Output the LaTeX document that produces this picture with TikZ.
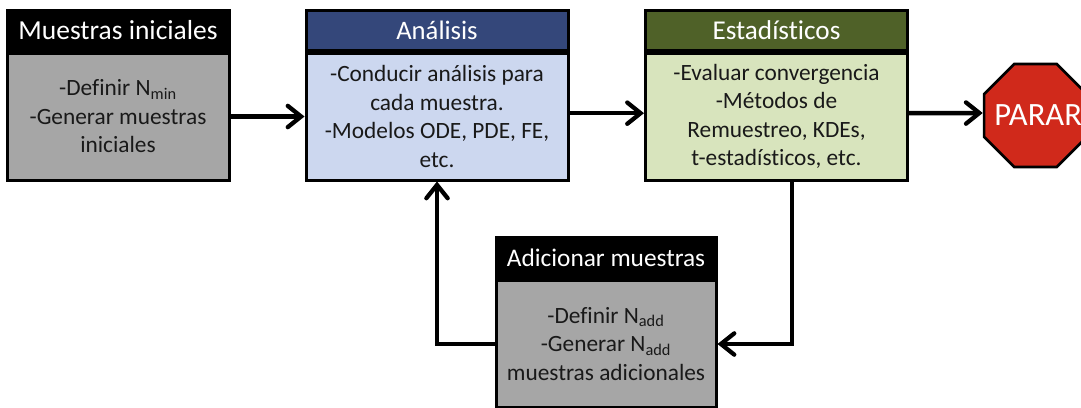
\documentclass[tikz,border=0pt]{standalone}
\usepackage{fontspec}
\setmainfont[Ligatures=CommonOff]{Carlito}
\usetikzlibrary{arrows.meta}
\usetikzlibrary{positioning}
\usetikzlibrary{shapes.geometric}
\definecolor{greyfill}{HTML}{A6A6A6}
\definecolor{bluehead}{HTML}{34477A}
\definecolor{bluefill}{HTML}{CCD7EF}
\definecolor{greenhead}{HTML}{4F6128}
\definecolor{greenfill}{HTML}{D8E4BD}
\definecolor{stopred}{HTML}{D0291B}
\tikzset{
	bodybox/.style={draw=black, line width=2.25pt, align=center, inner sep=0pt, minimum height=95.25pt, font=\fontsize{17.5}{21.4}\selectfont, text=black!90},
	headbox/.style={draw=black, line width=2.25pt, inner sep=0pt, minimum height=30pt, text=white},
	stopsign/.style={draw=black, line width=2pt, fill=stopred, regular polygon, regular polygon sides=8, minimum size=83.5pt, inner sep=0pt},
	stoptext/.style={inner sep=0pt, text=white, font=\fontsize{24.4}{29}\selectfont},
	flow/.style={line width=3.4pt, -{Straight Barb[length=10pt,width=16pt,line width=3.2pt,line cap=round]}}
}
\begin{document}
\begin{tikzpicture}[x=0.75pt, y=-0.75pt]
\useasboundingbox (0,0) rectangle (1081,407);
\node[bodybox, fill=greyfill, minimum width=166.5pt] (init) at (118,116.5) {-Definir N\textsubscript{min}\\-Generar muestras\\iniciales};
\node[headbox, fill=black, minimum width=166.5pt, above=0pt of init, font=\fontsize{20.6}{25}\selectfont] (inithead) {Muestras iniciales};
\node[bodybox, fill=bluefill, minimum width=196.5pt] (ana) at (437,116.5) {-Conducir análisis para\\cada muestra.\\-Modelos ODE, PDE, FE,\\etc.};
\node[headbox, fill=bluehead, minimum width=196.5pt, above=0pt of ana, font=\fontsize{20}{24}\selectfont] (anahead) {Análisis};
\node[bodybox, fill=greenfill, minimum width=196.5pt] (est) at (776.5,116.5) {-Evaluar convergencia\\-Métodos de\\Remuestreo, KDEs,\\t-estadísticos, etc.};
\node[headbox, fill=greenhead, minimum width=196.5pt, above=0pt of est, font=\fontsize{20.4}{25}\selectfont] (esthead) {Estadísticos};
\node[bodybox, fill=greyfill, minimum width=165pt] (add) at (606,344) {-Definir N\textsubscript{add}\\-Generar N\textsubscript{add}\\muestras adicionales};
\node[headbox, fill=black, minimum width=165pt, above=0pt of add, font=\fontsize{19}{23}\selectfont] (addhead) {Adicionar muestras};
\node[stopsign] (stop) at (1035.5,115.5) {};
\node[stoptext, xshift=2pt] (stoplabel) at (stop) {PARAR};
\path[flow]
(init.east) edge (ana.west)
([yshift=2.5pt]ana.east) edge ([yshift=2.5pt]est.west)
([yshift=2.5pt]est.east) edge (stop.west |- 0,113)
;
\draw[flow] ([xshift=11.6pt]est.south) |- (add.east);
\draw[flow] (add.west) -| (ana.south);
\end{tikzpicture}
\end{document}
